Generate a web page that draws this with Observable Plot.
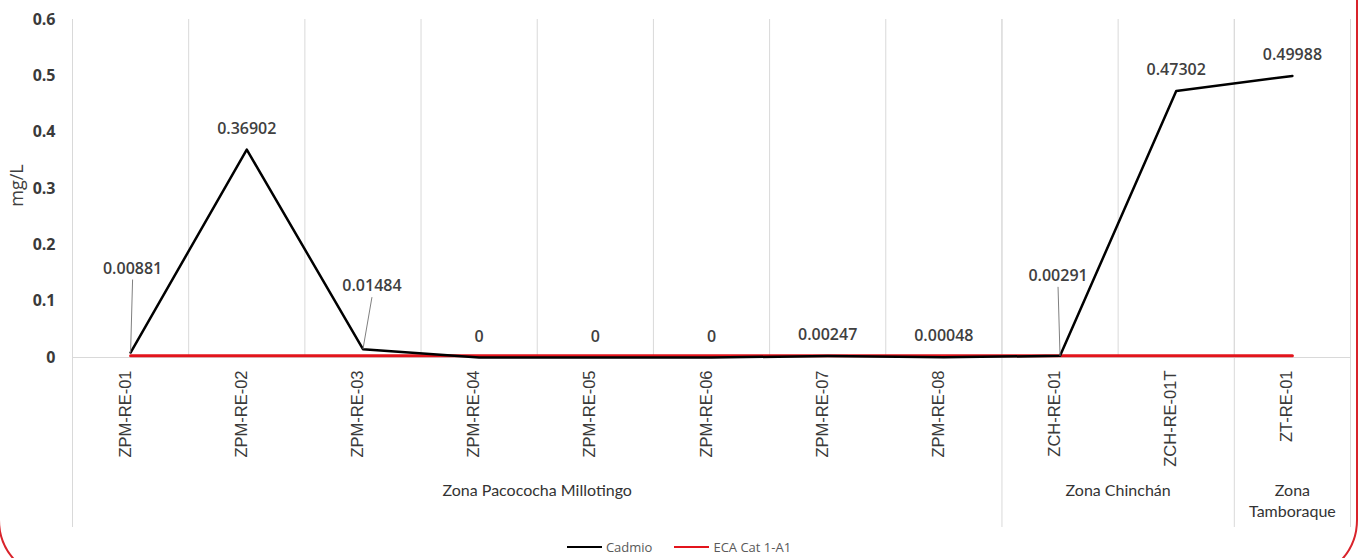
<!DOCTYPE html>
<html>
<head>
<meta charset="utf-8">
<script src="https://cdn.jsdelivr.net/npm/d3@7"></script>
<script src="https://cdn.jsdelivr.net/npm/@observablehq/plot@0.6"></script>
<style>
  html, body { margin: 0; padding: 0; background: #fff; overflow: hidden; }
  #wrap { position: relative; width: 1358px; height: 558px; overflow: hidden; font-family: "Open Sans", sans-serif; }
  #frame { position: absolute; left: -2px; top: -60px; width: 1360px; height: 640px; border: 2.5px solid #d9232b; border-radius: 60px; box-sizing: border-box; pointer-events: none; }
  #chart { position: absolute; left: 0; top: 0; }
  #legend { position: absolute; left: 0; top: 538px; width: 1358px; display: flex; justify-content: center; align-items: center; font-size: 13px; color: #595959; }
  .item { display: flex; align-items: center; margin: 0 11px; }
  .sw { width: 35px; height: 2.5px; margin-right: 4px; }
</style>
</head>
<body>
<div id="wrap">
  <div id="chart"></div>
  <div id="legend"></div>
  <div id="frame"></div>
</div>
<script>
// ---- data ----
const categories = ["ZPM-RE-01","ZPM-RE-02","ZPM-RE-03","ZPM-RE-04","ZPM-RE-05","ZPM-RE-06","ZPM-RE-07","ZPM-RE-08","ZCH-RE-01","ZCH-RE-01T","ZT-RE-01"];
const cadmio = [0.00881, 0.36902, 0.01484, 0, 0, 0, 0.00247, 0.00048, 0.00291, 0.47302, 0.49988];
const valueLabels = ["0.00881","0.36902","0.01484","0","0","0","0.00247","0.00048","0.00291","0.47302","0.49988"];
const eca = [0.003, 0.003, 0.003, 0.003, 0.003, 0.003, 0.003, 0.003, 0.003, 0.003, 0.003];
const groupNames = ["Zona Pacococha Millotingo", "Zona Chinchán", "Zona Tamboraque"];
const groupSizes = [8, 2, 1];
const yTicks = [0, 0.1, 0.2, 0.3, 0.4, 0.5, 0.6];
const seriesNames = ["Cadmio", "ECA Cat 1-A1"];
const seriesColors = ["#000000", "#e3141c"];

// ---- layout ----
const W = 1358, H = 530, mL = 72, mR = 8, mT = 19, mB = 173;
const yMax = 0.6;
const pxPerY = (H - mT - mB) / yMax;
const pxPerX = (W - mL - mR) / categories.length;
const leaderLayout = {0: {lift: 84, dx: 2}, 2: {lift: 63, dx: 9}, 8: {lift: 80, dx: -2}};
const defaultLift = 21;

const rows = categories.map((c, i) => {
  const L = leaderLayout[i];
  const lift = L ? L.lift : defaultLift;
  const dx = L ? L.dx : 0;
  return {
    cat: c, i, x: i + 0.5, cd: cadmio[i], eca: eca[i], label: valueLabels[i],
    lx: i + 0.5 + dx / pxPerX, ly: cadmio[i] + lift / pxPerY,
    leader: !!L, leadEnd: cadmio[i] + (lift - 11) / pxPerY
  };
});

let start = 0;
const groups = groupNames.map((g, k) => {
  const s = start, e = start + groupSizes[k];
  start = e;
  return {name: groupSizes[k] === 1 ? g.replace(" ", "\n") : g, s, e, mid: (s + e) / 2};
});
const groupBounds = [0, ...groups.map(g => g.e)];
const catBounds = d3.range(categories.length + 1);

const chart = Plot.plot({
  width: W, height: H,
  marginLeft: mL, marginRight: mR, marginTop: mT, marginBottom: mB,
  style: {fontFamily: "'Open Sans', sans-serif", color: "#404040", background: "transparent"},
  x: {type: "linear", domain: [0, categories.length], axis: null},
  y: {domain: [0, yMax], axis: null},
  marks: [
    Plot.ruleX(catBounds, {stroke: "#d9d9d9", strokeWidth: 1}),
    Plot.ruleX(groupBounds, {stroke: "#d9d9d9", strokeWidth: 1, insetBottom: -170}),
    Plot.ruleY([0], {stroke: "#d9d9d9", strokeWidth: 1}),
    Plot.line(rows, {x: "x", y: "eca", stroke: seriesColors[1], strokeWidth: 3}),
    Plot.line(rows, {x: "x", y: "cd", stroke: seriesColors[0], strokeWidth: 2.5}),
    Plot.link(rows.filter(d => d.leader), {x1: "x", y1: "cd", x2: "lx", y2: "leadEnd", stroke: "#808080", strokeWidth: 1}),
    Plot.text(rows, {x: "lx", y: "ly", text: "label", fontSize: 16, fontWeight: 600, fill: "#404040", lineAnchor: "middle"}),
    Plot.text(rows, {x: "x", frameAnchor: "bottom", text: "cat", rotate: -90, textAnchor: "end", dy: 13,
      fontSize: 16.5, fontFamily: "'Liberation Sans', Arial, sans-serif", fill: "#3a3a3a"}),
    Plot.text(groups, {x: "mid", frameAnchor: "bottom", text: "name", dy: 124, lineAnchor: "top",
      fontSize: 16, lineHeight: 1.3, fontFamily: "Lato, sans-serif", fill: "#333333"}),
    Plot.text(yTicks, {y: d => d, frameAnchor: "left", dx: -17, textAnchor: "end", text: d => String(+d.toFixed(1)),
      fontSize: 16, fontWeight: 700, fill: "#3a3a3a"}),
    Plot.text(["mg/L"], {frameAnchor: "left", dx: -55, dy: -3, rotate: -90, textAnchor: "middle", text: d => d, fontSize: 18, fill: "#404040"})
  ]
});
document.getElementById("chart").appendChild(chart);

const legend = document.getElementById("legend");
seriesNames.forEach((n, k) => {
  const it = document.createElement("div");
  it.className = "item";
  const sw = document.createElement("span");
  sw.className = "sw";
  sw.style.background = seriesColors[k];
  const t = document.createElement("span");
  t.textContent = n;
  it.appendChild(sw); it.appendChild(t);
  legend.appendChild(it);
});
</script>
</body>
</html>
